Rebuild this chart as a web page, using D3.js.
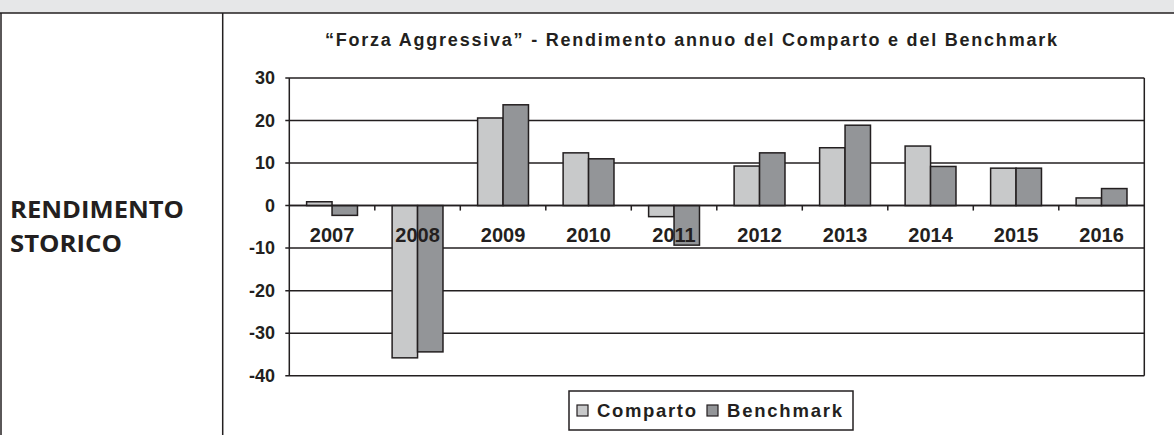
<!DOCTYPE html>
<html>
<head>
<meta charset="utf-8">
<script src="https://cdn.jsdelivr.net/npm/d3@7"></script>
<style>
  body { margin: 0; background: #fff; }
  svg { display: block; }
</style>
</head>
<body>
<div id="chart"></div>
<script>
var years = ["2007", "2008", "2009", "2010", "2011", "2012", "2013", "2014", "2015", "2016"];
var seriesNames = ["Comparto", "Benchmark"];
var comparto = [0.9, -35.8, 20.6, 12.4, -2.6, 9.3, 13.6, 14.0, 8.8, 1.8];
var benchmark = [-2.3, -34.4, 23.7, 11.0, -9.3, 12.4, 18.9, 9.2, 8.8, 4.0];
var yTicks = [-40, -30, -20, -10, 0, 10, 20, 30];

var width = 1174;
var height = 435;
var ink = "#231f20";
var colors = ["#c8c9ca", "#939598"];
var font = "'Liberation Sans', Arial, sans-serif";

var svg = d3.select("#chart").append("svg")
        .attr("width", width)
        .attr("height", height);

// page frame: grey strip on top, left border, column divider
svg.append("rect")
        .attr("x", 0).attr("y", 0)
        .attr("width", width).attr("height", 13)
        .attr("fill", "#e6e7e8");
svg.append("line")
        .attr("x1", 0).attr("x2", width)
        .attr("y1", 13).attr("y2", 13)
        .attr("stroke", ink).attr("stroke-width", 1.5);
svg.append("line")
        .attr("x1", 1).attr("x2", 1)
        .attr("y1", 13).attr("y2", height)
        .attr("stroke", ink).attr("stroke-width", 1.5);
svg.append("line")
        .attr("x1", 222.7).attr("x2", 222.7)
        .attr("y1", 13).attr("y2", height)
        .attr("stroke", ink).attr("stroke-width", 1.5);

svg.append("text")
        .attr("x", 10).attr("y", 218)
        .attr("textLength", 174).attr("lengthAdjust", "spacingAndGlyphs")
        .attr("font-family", "'Open Sans', 'Noto Sans', sans-serif")
        .attr("font-weight", "bold")
        .attr("font-size", "23px")
        .attr("fill", ink)
        .text("RENDIMENTO");
svg.append("text")
        .attr("x", 10).attr("y", 252)
        .attr("textLength", 112).attr("lengthAdjust", "spacingAndGlyphs")
        .attr("font-family", "'Open Sans', 'Noto Sans', sans-serif")
        .attr("font-weight", "bold")
        .attr("font-size", "23px")
        .attr("fill", ink)
        .text("STORICO");

// chart title
svg.append("text")
        .attr("x", 691).attr("y", 46)
        .attr("text-anchor", "middle")
        .attr("textLength", 732).attr("lengthAdjust", "spacing")
        .attr("font-family", font)
        .attr("font-weight", "bold")
        .attr("font-size", "18px")
        .attr("fill", ink)
        .text("\u201cForza Aggressiva\u201d - Rendimento annuo del Comparto e del Benchmark");

// scales
var x0 = d3.scaleBand()
        .domain(years)
        .range([289.3, 1144.3]);
var bw = x0.bandwidth();
var x1 = d3.scaleBand()
        .domain(seriesNames)
        .range([bw * 0.2025, bw * 0.7975]);
var y = d3.scaleLinear()
        .domain([-40, 30])
        .range([375.7, 78]);

var plotLeft = x0.range()[0];
var plotRight = x0.range()[1];

// gridlines
svg.append("g").selectAll("line")
        .data(yTicks)
        .enter().append("line")
        .attr("x1", plotLeft - 4)
        .attr("x2", plotRight)
        .attr("y1", function(d) { return y(d); })
        .attr("y2", function(d) { return y(d); })
        .attr("stroke", ink)
        .attr("stroke-width", 1.5);

// right border
svg.append("line")
        .attr("x1", plotRight).attr("x2", plotRight)
        .attr("y1", y(30)).attr("y2", y(-40))
        .attr("stroke", ink).attr("stroke-width", 1.5);

// bars
var rows = years.map(function(yr, i) {
    return { year: yr, values: [comparto[i], benchmark[i]] };
});
var groups = svg.append("g").selectAll("g")
        .data(rows)
        .enter().append("g")
        .attr("transform", function(d) { return "translate(" + x0(d.year) + ",0)"; });
groups.selectAll("rect")
        .data(function(d) {
            return d.values.map(function(v, k) { return { name: seriesNames[k], value: v, k: k }; });
        })
        .enter().append("rect")
        .attr("x", function(d) { return x1(d.name); })
        .attr("y", function(d) { return y(Math.max(0, d.value)); })
        .attr("width", x1.bandwidth())
        .attr("height", function(d) { return Math.abs(y(d.value) - y(0)); })
        .attr("fill", function(d) { return colors[d.k]; })
        .attr("stroke", ink)
        .attr("stroke-width", 1.5);

// y axis line and zero line
svg.append("line")
        .attr("x1", plotLeft).attr("x2", plotLeft)
        .attr("y1", y(30)).attr("y2", y(-40))
        .attr("stroke", ink).attr("stroke-width", 1.5);
svg.append("line")
        .attr("x1", plotLeft).attr("x2", plotRight)
        .attr("y1", y(0)).attr("y2", y(0))
        .attr("stroke", ink).attr("stroke-width", 1.5);

// category ticks on the zero line
svg.append("g").selectAll("line")
        .data(years.slice(1))
        .enter().append("line")
        .attr("x1", function(d) { return x0(d); })
        .attr("x2", function(d) { return x0(d); })
        .attr("y1", y(0))
        .attr("y2", y(0) + 5)
        .attr("stroke", ink)
        .attr("stroke-width", 1.5);

// y tick labels
svg.append("g").selectAll("text")
        .data(yTicks)
        .enter().append("text")
        .attr("x", 275)
        .attr("y", function(d) { return y(d); })
        .attr("dy", "0.35em")
        .attr("text-anchor", "end")
        .attr("font-family", font)
        .attr("font-weight", "bold")
        .attr("font-size", "18px")
        .attr("fill", ink)
        .text(function(d) { return d; });

// x labels, drawn over bars
svg.append("g").selectAll("text")
        .data(years)
        .enter().append("text")
        .attr("x", function(d) { return x0(d) + bw / 2; })
        .attr("y", 242)
        .attr("text-anchor", "middle")
        .attr("font-family", font)
        .attr("font-weight", "bold")
        .attr("font-size", "20px")
        .attr("fill", ink)
        .text(function(d) { return d; });

// legend
var legend = svg.append("g");
legend.append("rect")
        .attr("x", 569).attr("y", 391)
        .attr("width", 284).attr("height", 39)
        .attr("fill", "#fff")
        .attr("stroke", ink)
        .attr("stroke-width", 1.5);
var legendItems = [
    { x: 577, tx: 597, tw: 99 },
    { x: 707, tx: 727, tw: 115 }
];
legendItems.forEach(function(it, k) {
    legend.append("rect")
            .attr("x", it.x).attr("y", 405)
            .attr("width", 11).attr("height", 11)
            .attr("fill", colors[k])
            .attr("stroke", ink)
            .attr("stroke-width", 1.2);
    legend.append("text")
            .attr("x", it.tx).attr("y", 417)
            .attr("textLength", it.tw).attr("lengthAdjust", "spacing")
            .attr("font-family", font)
            .attr("font-weight", "bold")
            .attr("font-size", "18.5px")
            .attr("fill", ink)
            .text(seriesNames[k]);
});
</script>
</body>
</html>
